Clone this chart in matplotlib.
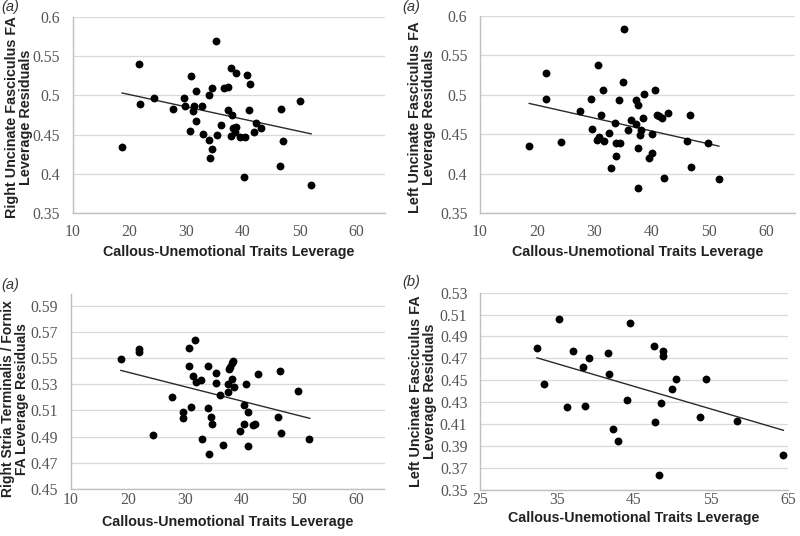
import matplotlib; matplotlib.use("Agg")
import matplotlib.pyplot as plt

# panel (a) top-left: right uncinate fasciculus
ru_x = [18.7, 21.7, 21.8, 24.4, 27.7, 29.6, 29.7, 30.7, 30.8, 31.1, 31.4, 31.7, 31.8, 32.8, 32.9,
        34.0, 34.0, 34.1, 34.6, 34.6, 35.4, 35.3, 36.1, 36.7, 37.4, 37.4, 37.9, 37.9, 38.0, 38.3,
        38.5, 38.8, 38.8, 39.5, 40.2, 40.3, 40.7, 41.1, 41.2, 41.9, 42.3, 43.1, 46.5, 46.7, 47.1,
        50.0, 52.0]
ru_y = [0.434, 0.540, 0.489, 0.497, 0.483, 0.497, 0.486, 0.455, 0.525, 0.480, 0.486, 0.505, 0.467,
        0.486, 0.451, 0.500, 0.443, 0.420, 0.509, 0.432, 0.449, 0.569, 0.462, 0.509, 0.511, 0.481,
        0.448, 0.535, 0.475, 0.459, 0.454, 0.528, 0.460, 0.447, 0.396, 0.447, 0.526, 0.481, 0.515,
        0.454, 0.465, 0.458, 0.410, 0.483, 0.442, 0.493, 0.386]
ru_fit_x = [18.7, 52.0]
ru_fit_y = [0.503, 0.451]

# panel (a) top-right: left uncinate fasciculus
lu_x = [18.6, 21.5, 21.6, 24.2, 27.5, 29.4, 29.5, 30.6, 30.4, 30.8, 31.1, 31.5, 31.7, 32.6, 32.8,
        33.5, 33.7, 33.8, 34.3, 34.4, 35.0, 35.1, 35.8, 36.3, 37.2, 37.2, 37.6, 37.6, 37.6, 38.0,
        38.1, 38.5, 38.6, 39.5, 40.0, 40.1, 40.5, 40.9, 41.2, 41.8, 42.2, 42.9, 46.2, 46.6, 46.8,
        49.8, 51.7]
lu_y = [0.435, 0.528, 0.494, 0.440, 0.479, 0.494, 0.457, 0.537, 0.443, 0.446, 0.475, 0.506, 0.442,
        0.452, 0.407, 0.464, 0.439, 0.422, 0.493, 0.439, 0.516, 0.583, 0.456, 0.468, 0.463, 0.493,
        0.487, 0.433, 0.382, 0.449, 0.456, 0.471, 0.501, 0.420, 0.426, 0.450, 0.506, 0.474, 0.473,
        0.471, 0.395, 0.477, 0.441, 0.475, 0.409, 0.439, 0.393]
lu_fit_x = [18.6, 51.7]
lu_fit_y = [0.489, 0.435]

# panel (a) bottom-left: right stria terminalis / fornix
st_x = [18.8, 21.9, 21.9, 24.5, 27.8, 29.7, 29.7, 30.8, 30.7, 31.1, 31.5, 31.7, 32.0, 32.9, 33.0,
        34.1, 34.1, 34.6, 34.7, 34.2, 35.4, 35.4, 36.1, 36.7, 37.5, 37.5, 37.7, 37.9, 38.2, 38.3,
        38.5, 38.7, 39.7, 40.3, 40.3, 40.7, 41.0, 41.1, 42.0, 42.3, 42.9, 46.4, 46.7, 46.9, 49.9,
        51.8]
st_y = [0.5495, 0.557, 0.555, 0.491, 0.520, 0.509, 0.504, 0.558, 0.544, 0.513, 0.536, 0.564, 0.532,
        0.533, 0.488, 0.544, 0.512, 0.505, 0.500, 0.477, 0.539, 0.531, 0.522, 0.484, 0.530, 0.524,
        0.542, 0.543, 0.546, 0.534, 0.548, 0.528, 0.494, 0.500, 0.514, 0.530, 0.483, 0.509, 0.499,
        0.500, 0.538, 0.505, 0.540, 0.493, 0.525, 0.488]
st_fit_x = [18.8, 51.9]
st_fit_y = [0.5406, 0.504]

# panel (b) bottom-right: left uncinate fasciculus
lb_x = [32.4, 33.3, 35.2, 36.3, 37.1, 38.4, 38.6, 39.1, 41.6, 41.7, 42.3, 42.9, 44.1, 44.5, 47.6,
        47.7, 48.3, 48.5, 48.8, 48.8, 49.9, 50.5, 53.6, 54.4, 58.4, 64.4]
lb_y = [0.4797, 0.4467, 0.5056, 0.4254, 0.4767, 0.4623, 0.4269, 0.4706, 0.4751, 0.4556, 0.4058,
        0.3949, 0.4321, 0.5019, 0.4812, 0.4119, 0.3637, 0.4296, 0.4766, 0.4720, 0.4424, 0.4513,
        0.4162, 0.4516, 0.4132, 0.3814]
lb_fit_x = [32.4, 64.4]
lb_fit_y = [0.4705, 0.4043]

yt1 = [0.35, 0.4, 0.45, 0.5, 0.55, 0.6]
yt1_lab = ["0.35", "0.4", "0.45", "0.5", "0.55", "0.6"]
yt3 = [0.45, 0.47, 0.49, 0.51, 0.53, 0.55, 0.57, 0.59]
yt4 = [0.35, 0.37, 0.39, 0.41, 0.43, 0.45, 0.47, 0.49, 0.51, 0.53]

W, H = 800, 536
XLAB = "Callous-Unemotional Traits Leverage"


def rect(l, r, t, b):
    return [l / W, 1 - b / H, (r - l) / W, (b - t) / H]


def panel(fig, box, x, y, fx, fy, xlim, xticks, ylim, yticks, ylabels, ylab, ylab_xy, ylab_fs,
          xlab_y, xpad, tag, tagpos):
    l, r, t, b = box
    ax = fig.add_axes(rect(*box))
    ax.scatter(x, y, s=32, color="black", zorder=3, linewidths=0)
    ax.plot(fx, fy, color="#2a2a2a", lw=1.0, zorder=2)
    ax.set_xlim(*xlim); ax.set_ylim(*ylim)
    ax.set_xticks(xticks); ax.set_yticks(yticks)
    ax.set_yticklabels(ylabels)
    for lab in ax.get_xticklabels() + ax.get_yticklabels():
        lab.set_fontfamily("Liberation Serif"); lab.set_fontsize(11.3); lab.set_color("#555555")
    ax.tick_params(axis="y", length=0, pad=9)
    ax.tick_params(axis="x", length=0, pad=xpad)
    ax.grid(axis="y", color="#d9d9d9", lw=0.9); ax.set_axisbelow(True)
    for s in ("top", "right"):
        ax.spines[s].set_visible(False)
    for s in ("left", "bottom"):
        ax.spines[s].set_color("#bfbfbf"); ax.spines[s].set_linewidth(1.0)
    fig.text((l + r) / 2 / W, 1 - xlab_y / H, XLAB, fontsize=10.3, fontweight="bold",
             family="Liberation Sans", ha="center", va="center", color="#222222")
    fig.text(ylab_xy[0] / W, 1 - ylab_xy[1] / H, ylab, fontsize=ylab_fs, fontweight="bold",
             family="Liberation Sans", ha="center", va="center", rotation=90,
             color="#222222", linespacing=1.05, multialignment="center")
    fig.text(tagpos[0] / W, 1 - tagpos[1] / H, tag, fontsize=10.5, style="italic",
             family="Liberation Sans", va="center", ha="left", color="#333333")
    return ax


fig = plt.figure(figsize=(W / 100, H / 100), dpi=100)
fig.patch.set_facecolor("white")

panel(fig, (72.7, 385, 16.7, 213.3), ru_x, ru_y, ru_fit_x, ru_fit_y, (10, 65), range(10, 61, 10),
      (0.35, 0.6), yt1, yt1_lab,
      "Right Uncinate Fasciculus FA\nLeverage Residuals", (19, 117), 10.4, 252, 8, "(a)", (1, 7))
panel(fig, (480, 795, 15.7, 213.3), lu_x, lu_y, lu_fit_x, lu_fit_y, (10, 65), range(10, 61, 10),
      (0.35, 0.6), yt1, yt1_lab,
      "Left Uncinate Fasciculus FA\nLeverage Residuals", (422, 117), 10.4, 252, 8, "(a)", (402, 7))
panel(fig, (70.7, 384.5, 294, 489), st_x, st_y, st_fit_x, st_fit_y, (10, 65), range(10, 61, 10),
      (0.45, 0.599), yt3, [f"{v:.2f}" for v in yt3],
      "Right Stria Terminalis / Fornix\nFA Leverage Residuals", (15, 399), 10.0, 522, 2, "(a)", (1, 285))
panel(fig, (480, 788, 292.7, 489.7), lb_x, lb_y, lb_fit_x, lb_fit_y, (25, 65), range(25, 66, 10),
      (0.35, 0.53), yt4, [f"{v:.2f}" for v in yt4],
      "Left Uncinate Fasciculus FA\nLeverage Residuals", (423, 391), 10.4, 518, 2, "(b)", (402, 282))

fig.savefig("out.png", dpi=100)
